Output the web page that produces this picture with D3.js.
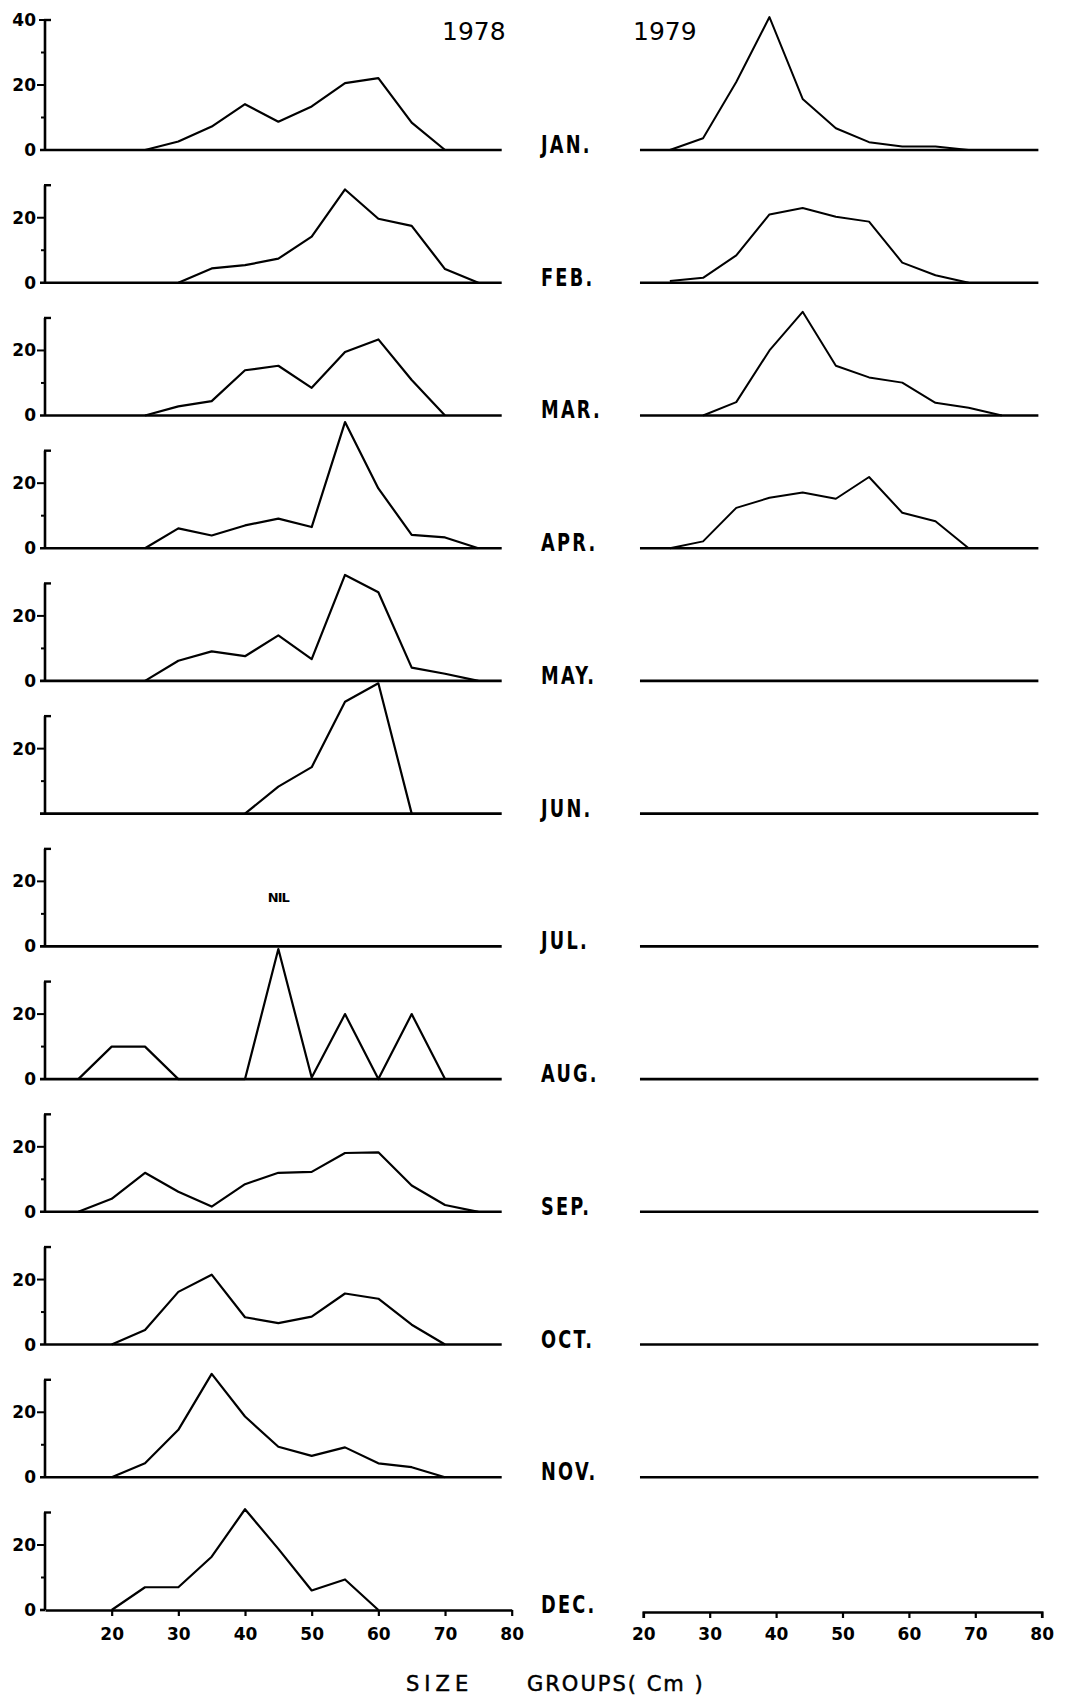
<!DOCTYPE html>
<html>
<head>
<meta charset="utf-8">
<script src="https://cdn.jsdelivr.net/npm/d3@7"></script>
<style>
  body { margin: 0; background: #fff; }
  svg { display: block; }
  text { font-family: "DejaVu Sans", sans-serif; fill: #000; }
</style>
</head>
<body>
<svg id="chart" width="1065" height="1696"></svg>
<script>
// ---------------- DATA ----------------
const months = ["JAN.", "FEB.", "MAR.", "APR.", "MAY.", "JUN.", "JUL.", "AUG.", "SEP.", "OCT.", "NOV.", "DEC."];
const years = ["1978", "1979"];

// 1978 size groups (cm) and monthly percentage frequencies (null = no line drawn)
const sizes1978 = [15, 20, 25, 30, 35, 40, 45, 50, 55, 60, 65, 70, 75];
const jan1978 = [null, null, 0, 2.6, 7.2, 14.1, 8.7, 13.4, 20.6, 22.1, 8.4, 0, null];
const feb1978 = [null, null, null, 0, 4.4, 5.4, 7.4, 14.2, 28.7, 19.7, 17.5, 4.2, 0];
const mar1978 = [null, null, 0, 2.8, 4.4, 13.9, 15.3, 8.5, 19.5, 23.4, 10.9, 0, null];
const apr1978 = [null, null, 0, 6.1, 3.9, 7.0, 9.1, 6.5, 38.8, 18.4, 4.1, 3.3, 0];
const may1978 = [null, null, 0, 6.2, 9.1, 7.6, 14.0, 6.7, 32.6, 27.3, 4.1, 2.2, 0];
const jun1978 = [null, null, null, null, null, 0, 8.3, 14.3, 34.4, 40.1, 0, null, null];
const jul1978 = [null, null, null, null, null, null, null, null, null, null, null, null, null];
const aug1978 = [0, 10, 10, 0, 0, 0, 40, 0.5, 20, 0, 20, 0, null];
const sep1978 = [0, 4, 12, 6.2, 1.6, 8.5, 12, 12.3, 18.1, 18.3, 8.1, 2.1, 0];
const oct1978 = [null, 0, 4.5, 16.2, 21.5, 8.4, 6.6, 8.6, 15.7, 14.1, 6.1, 0, null];
const nov1978 = [null, 0, 4.3, 14.6, 31.8, 18.7, 9.4, 6.6, 9.2, 4.3, 3.1, 0, null];
const dec1978 = [null, 0, 7, 7, 16.4, 31, 18.8, 6, 9.4, 0, null, null, null];
const series1978 = [jan1978, feb1978, mar1978, apr1978, may1978, jun1978,
                    jul1978, aug1978, sep1978, oct1978, nov1978, dec1978];

// 1979 size groups (cm) and monthly percentage frequencies (Jan-Apr only)
const sizes1979 = [24, 29, 34, 39, 44, 49, 54, 59, 64, 69, 74];
const jan1979 = [0, 3.6, 20.9, 40.9, 15.7, 6.7, 2.4, 1.1, 1.1, 0, null];
const feb1979 = [0.5, 1.5, 8.4, 21, 23, 20.3, 18.8, 6.2, 2.3, 0, null];
const mar1979 = [null, 0, 4.1, 20, 31.9, 15.3, 11.7, 10.1, 3.9, 2.4, 0];
const apr1979 = [0, 2.1, 12.4, 15.5, 17.1, 15.2, 21.9, 10.9, 8.3, 0, null];
const series1979 = [jan1979, feb1979, mar1979, apr1979];

const xTickValues = [20, 30, 40, 50, 60, 70, 80];
const yLabelsJan = [0, 20, 40];
const yLabelsOther = [0, 20];
const yMinorJan = [10, 30];
const yMinorOther = [10];
const nilLabel = "NIL";
const xTitleA = "SIZE";
const xTitleB = "GROUPS( Cm )";

// ---------------- LAYOUT ----------------
const svg = d3.select("#chart");
const xL = d3.scaleLinear().domain([10, 80]).range([45, 511.7]);
const xR = d3.scaleLinear().domain([20, 80]).range([643.3, 1041.7]);
const rowBase = d3.scaleLinear().domain([0, 11]).range([150, 1610]);
const unitPx = 3.25;
const yFor = i => d3.scaleLinear().domain([0, 40]).range([rowBase(i), rowBase(i) - 40 * unitPx]);

const line = (x, y) => d3.line()
  .defined(d => d[1] !== null)
  .x(d => x(d[0]))
  .y(d => y(d[1]));

months.forEach((m, i) => {
  const y = yFor(i);
  const g = svg.append("g");
  const base = rowBase(i);
  const isJan = i === 0, isDec = i === 11;
  const top = isJan ? 40 : 30;

  // ---- left y axis ----
  g.append("line").attr("x1", xL(10)).attr("x2", xL(10))
    .attr("y1", y(0)).attr("y2", y(top))
    .attr("stroke", "#000").attr("stroke-width", 2.6);
  g.append("line").attr("x1", xL(10) - 1).attr("x2", xL(10) + 6)
    .attr("y1", y(top)).attr("y2", y(top))
    .attr("stroke", "#000").attr("stroke-width", 2.4);
  g.append("line").attr("x1", xL(10) - 8).attr("x2", xL(10))
    .attr("y1", y(20)).attr("y2", y(20)).attr("stroke", "#000").attr("stroke-width", 2);
  if (isJan) {
    g.append("line").attr("x1", xL(10) - 6).attr("x2", xL(10))
      .attr("y1", y(40)).attr("y2", y(40)).attr("stroke", "#000").attr("stroke-width", 2);
  }
  (isJan ? yMinorJan : yMinorOther).forEach(v => {
    g.append("line").attr("x1", xL(10) - 4).attr("x2", xL(10))
      .attr("y1", y(v)).attr("y2", y(v)).attr("stroke", "#000").attr("stroke-width", 2);
  });
  (isJan ? yLabelsJan : yLabelsOther).forEach(v => {
    if (i === 5 && v === 0) return; // JUN has no 0 label
    g.append("text").attr("x", xL(10) - 9).attr("y", y(v))
      .attr("text-anchor", "end").attr("dominant-baseline", "central")
      .attr("font-size", 17).attr("font-weight", "bold")
      .text(v);
  });

  // ---- left baseline / x axis ----
  if (isDec) {
    const ax = g.append("g").attr("transform", `translate(0,${base})`)
      .call(d3.axisBottom(xL).tickValues(xTickValues).tickSize(6).tickSizeOuter(0).tickPadding(12));
    ax.select(".domain").attr("stroke-width", 2.6);
    ax.selectAll(".tick line").attr("stroke-width", 2.2);
    ax.selectAll(".tick text").attr("font-size", 17).attr("font-weight", "bold")
      .attr("font-family", "DejaVu Sans");
    g.append("line").attr("x1", xL(10) - 5).attr("x2", xL(10))
      .attr("y1", base).attr("y2", base).attr("stroke", "#000").attr("stroke-width", 2.6);
  } else {
    g.append("line").attr("x1", xL(10) - 5).attr("x2", xL(78.5))
      .attr("y1", base).attr("y2", base).attr("stroke", "#000").attr("stroke-width", 2.6);
  }

  // ---- right baseline / x axis ----
  if (isDec) {
    const ax = g.append("g").attr("transform", `translate(0,${base + 2})`)
      .call(d3.axisBottom(xR).tickValues(xTickValues).tickSize(6).tickSizeOuter(6).tickPadding(10));
    ax.select(".domain").attr("stroke-width", 2.6);
    ax.selectAll(".tick line").attr("stroke-width", 2.2);
    ax.selectAll(".tick text").attr("font-size", 17).attr("font-weight", "bold")
      .attr("font-family", "DejaVu Sans");
  } else {
    g.append("line").attr("x1", xR(19.5)).attr("x2", xR(79.5))
      .attr("y1", base).attr("y2", base).attr("stroke", "#000").attr("stroke-width", 2.6);
  }

  // ---- month label ----
  g.append("text")
    .attr("transform", `translate(541,${base + 3}) scale(0.74,1)`)
    .attr("font-size", 24).attr("font-weight", "bold").attr("letter-spacing", 3)
    .text(m);

  // ---- 1978 series ----
  const pts78 = sizes1978.map((s, k) => [s, series1978[i][k]]);
  g.append("path").datum(pts78)
    .attr("d", line(xL, y))
    .attr("fill", "none").attr("stroke", "#000").attr("stroke-width", 2.2)
    .attr("stroke-linejoin", "round");

  // ---- 1979 series ----
  if (series1979[i]) {
    const pts79 = sizes1979.map((s, k) => [s, series1979[i][k]]);
    g.append("path").datum(pts79)
      .attr("d", line(xR, y))
      .attr("fill", "none").attr("stroke", "#000").attr("stroke-width", 2)
      .attr("stroke-linejoin", "round");
  }

  if (i === 6) {
    g.append("text").attr("x", xL(45)).attr("y", y(13.5))
      .attr("text-anchor", "middle").attr("font-size", 13).attr("font-weight", "bold")
      .attr("letter-spacing", -1).text(nilLabel);
  }
});

// year labels
svg.append("text").attr("x", 442).attr("y", 40).attr("font-size", 25).text(years[0]);
svg.append("text").attr("x", 633).attr("y", 40).attr("font-size", 25).text(years[1]);

// x title
svg.append("text").attr("x", 406).attr("y", 1691)
  .attr("font-size", 21).attr("letter-spacing", 5)
  .attr("stroke", "#000").attr("stroke-width", 0.5)
  .text(xTitleA);
svg.append("text").attr("x", 527).attr("y", 1691)
  .attr("font-size", 21).attr("letter-spacing", 2)
  .attr("stroke", "#000").attr("stroke-width", 0.5)
  .style("white-space", "pre").text(xTitleB);
</script>
</body>
</html>
